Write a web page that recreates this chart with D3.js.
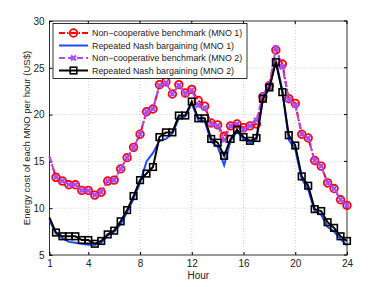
<!DOCTYPE html>
<html>
<head>
<meta charset="utf-8">
<script src="https://cdn.jsdelivr.net/npm/d3@7"></script>
<style>
  body { margin: 0; background: #fff; }
  svg { display: block; font-family: "Liberation Sans", Arial, sans-serif; }
</style>
</head>
<body>
<svg id="chart" width="382" height="287"></svg>
<script>
/* Energy cost per MNO per hour, half-hour samples 1..24 */
var hours = d3.range(1, 24.01, 0.5);

var nonCoop1 = [15.5, 13.3, 12.9, 12.5, 12.5, 11.9, 11.9, 11.4, 11.7, 12.9,
  13.0, 14.2, 15.4, 16.5, 17.9, 20.3, 20.6, 23.2, 23.5, 22.2,
  23.2, 22.3, 22.7, 21.5, 20.9, 19.1, 18.9, 17.7, 18.8, 19.0,
  18.6, 18.8, 19.0, 21.9, 23.1, 26.9, 25.4, 21.7, 21.2, 17.9,
  17.5, 15.1, 14.5, 12.7, 12.1, 10.9, 10.3];

var nash1 = [8.7, 7.3, 6.8, 6.4, 6.3, 6.2, 6.1, 6.1, 6.3, 7.1,
  7.5, 8.3, 9.6, 11.0, 12.7, 15.0, 15.9, 17.2, 17.4, 18.0,
  19.6, 19.8, 21.2, 19.4, 19.3, 17.1, 16.6, 14.6, 17.2, 18.2,
  17.4, 17.0, 17.3, 21.6, 22.8, 25.8, 22.6, 17.3, 16.3, 13.1,
  12.0, 9.7, 9.3, 8.0, 7.5, 6.7, 6.0];

var nonCoop2 = [15.5, 13.3, 12.9, 12.5, 12.5, 11.9, 11.9, 11.4, 11.7, 12.9,
  13.0, 14.2, 15.4, 16.5, 17.9, 20.3, 20.6, 23.1, 23.4, 22.2,
  23.1, 22.2, 22.6, 21.0, 20.7, 19.0, 18.8, 17.3, 18.8, 19.0,
  18.4, 18.8, 19.4, 22.1, 23.2, 27.1, 25.1, 21.6, 21.0, 17.9,
  17.5, 15.1, 14.5, 12.7, 12.1, 10.9, 10.3];

var nash2 = [9.0, 7.4, 7.0, 7.0, 7.0, 6.6, 6.6, 6.2, 6.5, 7.2,
  7.6, 8.6, 9.8, 11.3, 13.0, 13.7, 14.4, 17.6, 18.1, 18.1,
  19.9, 19.9, 21.4, 19.6, 19.6, 17.4, 17.0, 15.6, 17.4, 18.4,
  17.6, 17.2, 17.5, 21.7, 22.9, 25.6, 22.4, 17.8, 16.7, 13.4,
  12.4, 9.9, 9.7, 8.5, 7.9, 7.0, 6.5];

var xTicks = [1, 4, 8, 12, 16, 20, 24];
var yTicks = [5, 10, 15, 20, 25, 30];
var legendLabels = [
  'Non\u2212cooperative benchmark (MNO 1)',
  'Repeated Nash bargaining (MNO 1)',
  'Non\u2212cooperative benchmark (MNO 2)',
  'Repeated Nash bargaining (MNO 2)'
];

(function () {
  'use strict';
  var svg = d3.select('#chart');
  var m = { left: 49.5, right: 347, top: 21, bottom: 255 };

  var x = d3.scaleLinear().domain([1, 24]).range([m.left, m.right]);
  var y = d3.scaleLinear().domain([5, 30]).range([m.bottom, m.top]);

  var red = '#ff0000', blue = '#1a4cff', purple = '#a64dff', black = '#000';

  /* grid */
  var grid = svg.append('g').attr('stroke', '#b8b8b8').attr('stroke-width', 0.7)
    .attr('stroke-dasharray', '1,2');
  grid.selectAll('.gx').data(xTicks.slice(1, -1)).enter().append('line')
    .attr('x1', x).attr('x2', x).attr('y1', m.top).attr('y2', m.bottom);
  grid.selectAll('.gy').data(yTicks.slice(1, -1)).enter().append('line')
    .attr('y1', y).attr('y2', y).attr('x1', m.left).attr('x2', m.right);

  /* axes, ticks inward */
  var xAxis = d3.axisBottom(x).tickValues(xTicks).tickSizeInner(-3).tickSizeOuter(0).tickPadding(5);
  var yAxis = d3.axisLeft(y).tickValues(yTicks).tickSizeInner(-3).tickSizeOuter(0).tickPadding(5);
  var gx = svg.append('g').attr('transform', 'translate(0,' + m.bottom + ')').call(xAxis);
  var gy = svg.append('g').attr('transform', 'translate(' + m.left + ',0)').call(yAxis);
  [gx, gy].forEach(function (g) {
    g.select('.domain').remove();
    g.selectAll('text').attr('font-size', 10).attr('fill', '#222').attr('font-family', null);
  });
  /* top/right ticks */
  svg.append('g').selectAll('line').data(xTicks).enter().append('line')
    .attr('x1', x).attr('x2', x).attr('y1', m.top).attr('y2', m.top + 3).attr('stroke', '#000');
  svg.append('g').selectAll('line').data(yTicks).enter().append('line')
    .attr('y1', y).attr('y2', y).attr('x1', m.right).attr('x2', m.right - 3).attr('stroke', '#000');

  svg.append('rect').attr('x', m.left).attr('y', m.top)
    .attr('width', m.right - m.left).attr('height', m.bottom - m.top)
    .attr('fill', 'none').attr('stroke', '#000').attr('stroke-width', 0.8);

  svg.append('text').attr('x', (m.left + m.right) / 2).attr('y', 279)
    .attr('text-anchor', 'middle').attr('font-size', 10).attr('fill', '#222').text('Hour');
  svg.append('text').attr('transform', 'translate(30,' + ((m.top + m.bottom) / 2) + ') rotate(-90)')
    .attr('text-anchor', 'middle').attr('font-size', 9.5).attr('fill', '#222')
    .text('Energy cost of each MNO per hour (US$)');

  var line = d3.line().x(function (d) { return x(d[0]); }).y(function (d) { return y(d[1]); });
  function pts(vals) { return hours.map(function (h, i) { return [h, vals[i]]; }); }

  var plot = svg.append('g');

  /* MNO1 non-cooperative: red dash-dot with circles */
  var p1 = pts(nonCoop1);
  plot.append('path').datum(p1).attr('d', line).attr('fill', 'none')
    .attr('stroke', red).attr('stroke-width', 2).attr('stroke-dasharray', '6,2,1.5,2');
  plot.append('g').selectAll('circle').data(p1.slice(1)).enter().append('circle')
    .attr('cx', function (d) { return x(d[0]); }).attr('cy', function (d) { return y(d[1]); })
    .attr('r', 3.8).attr('fill', 'none').attr('stroke', red).attr('stroke-width', 1.8);

  /* MNO1 Nash: blue solid */
  plot.append('path').datum(pts(nash1)).attr('d', line).attr('fill', 'none')
    .attr('stroke', blue).attr('stroke-width', 2);

  /* MNO2 non-cooperative: purple dashed with x */
  var p2 = pts(nonCoop2);
  plot.append('path').datum(p2).attr('d', line).attr('fill', 'none')
    .attr('stroke', purple).attr('stroke-width', 2).attr('stroke-dasharray', '6,3');
  plot.append('g').selectAll('path').data(p2.slice(1)).enter().append('path')
    .attr('d', d3.symbol(d3.symbolX, 18))
    .attr('transform', function (d) { return 'translate(' + x(d[0]) + ',' + y(d[1]) + ')'; })
    .attr('fill', 'none').attr('stroke', purple).attr('stroke-width', 2.2);

  /* MNO2 Nash: black solid with squares */
  var p3 = pts(nash2);
  plot.append('path').datum(p3).attr('d', line).attr('fill', 'none')
    .attr('stroke', black).attr('stroke-width', 2);
  plot.append('g').selectAll('rect').data(p3.slice(1)).enter().append('rect')
    .attr('x', function (d) { return x(d[0]) - 3.3; }).attr('y', function (d) { return y(d[1]) - 3.3; })
    .attr('width', 6.6).attr('height', 6.6)
    .attr('fill', 'none').attr('stroke', black).attr('stroke-width', 1.6);

  /* legend */
  var lg = svg.append('g');
  lg.append('rect').attr('x', 53).attr('y', 23.5).attr('width', 194).attr('height', 55)
    .attr('fill', '#fff').attr('stroke', '#000').attr('stroke-width', 0.8);
  var rows = [33, 45.5, 58, 70.5];
  var x0 = 59, x1 = 88, xm = 73.5;
  // row 0
  lg.append('line').attr('x1', x0).attr('x2', x1).attr('y1', rows[0]).attr('y2', rows[0])
    .attr('stroke', red).attr('stroke-width', 2).attr('stroke-dasharray', '6,2,1.5,2');
  lg.append('circle').attr('cx', xm).attr('cy', rows[0]).attr('r', 3.8)
    .attr('fill', 'none').attr('stroke', red).attr('stroke-width', 1.8);
  // row 1
  lg.append('line').attr('x1', x0).attr('x2', x1).attr('y1', rows[1]).attr('y2', rows[1])
    .attr('stroke', blue).attr('stroke-width', 2);
  // row 2
  lg.append('line').attr('x1', x0).attr('x2', x1).attr('y1', rows[2]).attr('y2', rows[2])
    .attr('stroke', purple).attr('stroke-width', 2).attr('stroke-dasharray', '6,3');
  lg.append('path').attr('d', d3.symbol(d3.symbolX, 18))
    .attr('transform', 'translate(' + xm + ',' + rows[2] + ')')
    .attr('fill', 'none').attr('stroke', purple).attr('stroke-width', 2.2);
  // row 3
  lg.append('line').attr('x1', x0).attr('x2', x1).attr('y1', rows[3]).attr('y2', rows[3])
    .attr('stroke', black).attr('stroke-width', 2);
  lg.append('rect').attr('x', xm - 3.3).attr('y', rows[3] - 3.3).attr('width', 6.6).attr('height', 6.6)
    .attr('fill', 'none').attr('stroke', black).attr('stroke-width', 1.6);

  lg.selectAll('.lt').data(legendLabels).enter().append('text')
    .attr('x', 92).attr('y', function (d, i) { return rows[i] + 3.3; })
    .attr('font-size', 8.9).attr('fill', '#222').text(function (d) { return d; });
})();
</script>
</body>
</html>
